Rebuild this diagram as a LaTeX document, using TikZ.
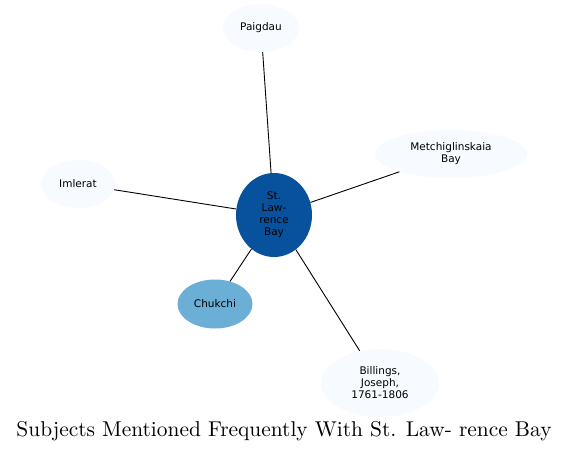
\documentclass[tikz,border=0pt]{standalone}
\usepackage{fontspec}
\setsansfont{DejaVu Sans}
\usepackage{tikz}
\usetikzlibrary{shapes.geometric}
\definecolor{hubFill}{HTML}{08519C}
\definecolor{midFill}{HTML}{6BAED6}
\definecolor{leafFill}{HTML}{F7FBFF}
\begin{document}
\begin{tikzpicture}[
  x=1pt,y=-1pt,
  every node/.style={font=\sffamily\fontsize{10.5}{12}\selectfont,align=center},
  topic/.style={ellipse,inner sep=0pt,draw=none},
  hub/.style={topic,fill=hubFill,minimum width=76pt,minimum height=84pt},
  near/.style={topic,fill=midFill},
  leaf/.style={topic,fill=leafFill},
  link/.style={line width=0.9pt,black}
]
  \useasboundingbox (0,0) rectangle (569,452);

  % --- centre ---
  \node[hub] (bay) at (274,215) {St.\\Law-\\rence\\Bay};

  % --- related subjects ---
  \node[leaf,minimum width=76pt,minimum height=48pt] (paig) at (261,28) {Paigdau};
  \node[leaf,minimum width=152pt,minimum height=48pt] (metch) at (451,154) {Metchiglinskaia\\Bay};
  \node[leaf,minimum width=74pt,minimum height=48pt] (imle) at (78,184) {Imlerat};
  \node[near,minimum width=75pt,minimum height=49pt] (chuk) at (215,304) {Chukchi};
  \node[leaf,minimum width=118pt,minimum height=68pt] (bill) at (380,383) {Billings,\\Joseph,\\1761-1806};

  \draw[link] (paig)--(bay);
  \draw[link] (metch)--(bay);
  \draw[link] (imle)--(bay);
  \draw[link] (chuk)--(bay);
  \draw[link] (bill)--(bay);

  % title
  \node[font=\rmfamily] (title) at (284,431)
    {\resizebox{535pt}{!}{Subjects Mentioned Frequently With St. Law- rence Bay}};
\end{tikzpicture}
\end{document}
